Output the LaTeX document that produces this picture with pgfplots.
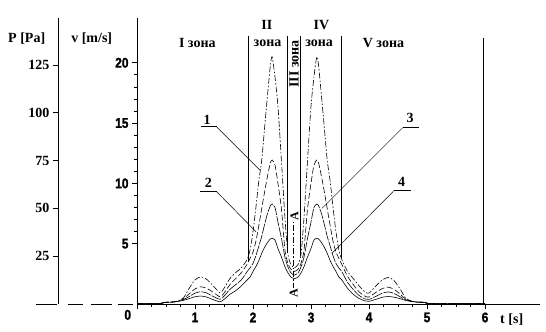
\documentclass[border=0pt]{standalone}
\usepackage{pgfplots}
\pgfplotsset{compat=1.18}
\usepackage{pgfplotstable}
\usepackage{fontspec}
\setmainfont{Liberation Serif}
\newfontfamily\tickfont[FakeStretch=0.85,FakeBold=1.5]{Liberation Sans}
\newcommand\lab{\fontsize{14bp}{16bp}\selectfont\bfseries}
\newcommand\slab{\fontsize{12bp}{14bp}\selectfont\bfseries}
\newcommand\tlab{\tickfont\fontsize{14bp}{16bp}\selectfont\bfseries}

\pgfplotstableread{
t     c1    c2    c3    c4
0     0.05  0.05  0.05  0.05
0.43  0.06  0.06  0.06  0.06
0.45  0.13  0.13  0.13  0.13
0.6   0.16  0.16  0.16  0.16
0.7   0.24  0.23  0.22  0.21
0.8   0.5   0.42  0.36  0.3
0.9   1.3   0.85  0.62  0.45
1.0   2.0   1.25  0.9   0.6
1.1   2.26  1.43  1.02  0.66
1.2   2.05  1.3   0.92  0.58
1.3   1.58  1.02  0.66  0.39
1.43  0.94  0.6   0.39  0.18
1.5   1.3   0.9   0.65  0.38
1.6   2.1   1.6   1.2   0.8
1.7   2.6   2.1   1.6   1.1
1.8   3.0   2.6   2.0   1.5
1.9   3.7   3.3   2.7   2.0
1.95  4.5   3.8   3.0   2.24
2.0   6.0   4.3   3.37  2.7
2.05  8.0   5.2   4.0   3.1
2.1   10.2  6.5   4.8   3.6
2.15  11.9  7.9   5.6   4.2
2.2   14.6  9.3   6.6   4.7
2.25  17.3  10.6  7.5   5.1
2.3   19.8  11.7  8.15  5.4
2.33  20.5  11.94 8.29  5.45
2.38  18.8  11.5  8.0   5.3
2.43  16.4  10.0  6.8   4.6
2.49  11.9  7.9   5.45  3.9
2.55  7.2   4.5   3.9   3.1
2.6   4.2   3.4   3.1   2.6
2.65  3.3   2.9   2.6   2.25
2.715 3.0   2.7   2.4   2.1
2.78  3.3   2.9   2.6   2.25
2.83  4.2   3.4   3.1   2.6
2.88  7.2   4.5   3.9   3.1
2.94  11.9  7.9   5.45  3.9
3.0   16.4  10.0  6.8   4.6
3.05  18.8  11.5  8.0   5.3
3.1   20.5  11.94 8.29  5.45
3.13  19.8  11.7  8.15  5.4
3.18  17.3  10.6  7.5   5.1
3.23  14.6  9.3   6.6   4.7
3.28  11.9  7.9   5.6   4.2
3.33  10.2  6.5   4.8   3.6
3.38  8.0   5.2   4.0   3.1
3.43  6.0   4.3   3.37  2.7
3.48  4.5   3.8   3.0   2.24
3.53  3.7   3.3   2.7   2.0
3.63  2.7   2.3   1.8   1.3
3.73  2.1   1.6   1.2   0.8
3.83  1.5   1.0   0.7   0.45
3.93  1.0   0.65  0.42  0.26
4.0   0.9   0.58  0.38  0.22
4.13  1.55  1.0   0.66  0.4
4.23  2.0   1.28  0.9   0.56
4.33  2.2   1.4   1.0   0.62
4.43  1.95  1.22  0.88  0.57
4.53  1.3   0.85  0.62  0.45
4.63  0.5   0.42  0.36  0.3
4.73  0.24  0.23  0.22  0.21
4.83  0.16  0.16  0.16  0.16
4.98  0.13  0.13  0.13  0.13
5.0   0.06  0.06  0.06  0.06
5.43  0.05  0.05  0.05  0.05
6.0   0.05  0.05  0.05  0.05
}\data

\begin{document}
\begin{tikzpicture}
\useasboundingbox (0,0) rectangle (546bp,332bp);
% P axis
\begin{axis}[at={(58bp,28bp)}, anchor=south west, x=1bp, y=1.912bp,
  xmin=0, xmax=1, ymin=0, ymax=149.6,
  axis x line=none, axis y line=left, axis line style={-, line width=0.9bp},
  ytick={25,50,75,100,125}, yticklabels={25,50,75,100,125},
  tick align=outside, major tick length=5bp, tick style={black, line width=0.8bp},
  yticklabel style={font=\lab}]
\end{axis}
% main axis
\begin{axis}[at={(137bp,28bp)}, anchor=south west, x=58bp, y=12.06bp,
  xmin=0, xmax=6.95, ymin=0, ymax=23.7, clip=false,
  axis x line=bottom, axis y line=left, axis line style={-, line width=0.9bp},
  xtick={0,...,6}, xticklabels={,1,2,3,4,5,6}, minor x tick num=3,
  ytick={5,10,15,20}, yticklabels={5,10,15,20}, minor y tick num=4,
  tick align=outside, major tick length=5bp, minor tick length=3bp,
  tick style={black, line width=0.8bp},
  tick label style={font=\tlab}]
\addplot[black, line width=0.6bp, smooth, tension=0.4, dash pattern=on 6bp off 2bp on 1.5bp off 2bp] table[x=t,y=c1]{\data};
\addplot[black, line width=0.6bp, smooth, tension=0.4, dash pattern=on 6bp off 2.5bp] table[x=t,y=c2]{\data};
\addplot[black, line width=0.6bp, smooth, tension=0.4, dash pattern=on 10bp off 1.2bp] table[x=t,y=c3]{\data};
\addplot[black, line width=0.6bp, smooth, tension=0.4] table[x=t,y=c4]{\data};
% zone boundaries
\addplot[black, line width=0.7bp, forget plot] coordinates {(1.92,22.2) (1.92,3.6)};
\addplot[black, line width=0.7bp, forget plot] coordinates {(2.60,22.2) (2.60,4.2)};
\addplot[black, line width=0.7bp, forget plot] coordinates {(2.82,22.2) (2.82,4.0)};
\addplot[black, line width=0.7bp, forget plot] coordinates {(3.52,22.2) (3.52,3.8)};
\addplot[black, line width=0.7bp, forget plot] coordinates {(5.97,22.05) (5.97,0)};
% section A-A
\addplot[black, line width=0.6bp, dash pattern=on 6bp off 2bp on 1.5bp off 2bp, forget plot] coordinates {(2.70,7.5) (2.70,0.6)};
\node[font=\slab, rotate=90, fill=white, inner sep=0.5bp] at (axis cs:2.715,7.3) {A};
\node[font=\slab, rotate=90, fill=white, inner sep=0.5bp] at (axis cs:2.70,0.9) {A};
% zone labels
\node[font=\lab] at (axis cs:1.04,21.64) {I зона};
\node[font=\lab] at (axis cs:2.24,23.1) {II};
\node[font=\lab] at (axis cs:2.25,21.64) {зона};
\node[font=\lab, rotate=90] at (axis cs:2.71,19.9) {III зона};
\node[font=\lab] at (axis cs:3.18,23.1) {IV};
\node[font=\lab] at (axis cs:3.14,21.64) {зона};
\node[font=\lab] at (axis cs:4.25,21.64) {V зона};
% curve labels
\node[font=\lab] at (axis cs:1.207,15.3) {1};
\draw[line width=1bp] (axis cs:1.10,14.68) -- (axis cs:1.374,14.68);
\draw[line width=0.5bp] (axis cs:1.374,14.68) -- (axis cs:2.12,11.1);
\node[font=\lab] at (axis cs:1.229,10.01) {2};
\draw[line width=1bp] (axis cs:1.086,9.31) -- (axis cs:1.374,9.31);
\draw[line width=0.5bp] (axis cs:1.374,9.31) -- (axis cs:2.05,6.0);
\node[font=\lab] at (axis cs:4.707,15.40) {3};
\draw[line width=1bp] (axis cs:4.581,14.62) -- (axis cs:4.857,14.62);
\draw[line width=0.5bp] (axis cs:4.581,14.62) -- (axis cs:3.19,7.93);
\node[font=\lab] at (axis cs:4.564,10.14) {4};
\draw[line width=1bp] (axis cs:4.431,9.40) -- (axis cs:4.724,9.40);
\draw[line width=0.5bp] (axis cs:4.431,9.40) -- (axis cs:3.36,4.2);
\node[font=\tlab] at (axis cs:-0.16,-0.9) {0};
\end{axis}
% dashed extension of t axis
\draw[line width=0.9bp] (36bp,28bp) -- (57bp,28bp);
\draw[line width=0.9bp] (68bp,28bp) -- (83bp,28bp);
\draw[line width=0.9bp] (91bp,28bp) -- (112bp,28bp);
\draw[line width=0.9bp] (118bp,28bp) -- (133bp,28bp);
% axis titles
\node[font=\lab] at (26.7bp,293.7bp) {P [Pa]};
\node[font=\lab] at (91.7bp,293.7bp) {v [m/s]};
\node[font=\lab] at (511.7bp,12bp) {t [s]};
\end{tikzpicture}
\end{document}
